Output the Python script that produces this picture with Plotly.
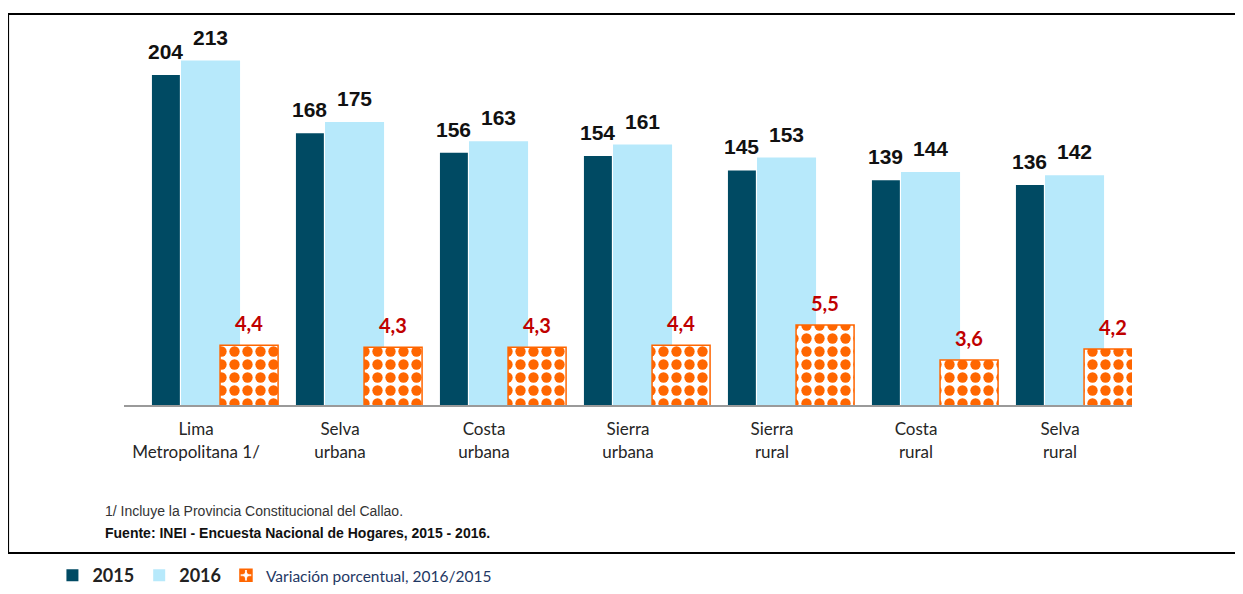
import plotly.graph_objects as go

# Data
categories = [
    "Lima<br>Metropolitana 1/", "Selva<br>urbana", "Costa<br>urbana", "Sierra<br>urbana",
    "Sierra<br>rural", "Costa<br>rural", "Selva<br>rural",
]
values_2015 = [204, 168, 156, 154, 145, 139, 136]
values_2016 = [213, 175, 163, 161, 153, 144, 142]
variation = [4.4, 4.3, 4.3, 4.4, 5.5, 3.6, 4.2]

C2015 = "#004A63"
C2016 = "#B7E9FB"
ORANGE = "#FF6600"
RED = "#C00000"
ARIAL = "Liberation Sans, Arial"

# bar geometry in category units (offset, width)
geo_2015 = (-0.306, 0.194)
geo_2016 = (-0.104, 0.41)
geo_var = (0.167, 0.403)

fig = go.Figure()

fig.add_trace(go.Bar(
    x=categories, y=values_2015, name="<b>2015</b>",
    offset=geo_2015[0], width=geo_2015[1],
    marker=dict(color=C2015, line=dict(width=0)),
))
fig.add_trace(go.Bar(
    x=categories, y=values_2016, name="<b>2016</b>",
    offset=geo_2016[0], width=geo_2016[1],
    marker=dict(color=C2016, line=dict(width=0)),
))
fig.add_trace(go.Bar(
    x=categories, y=variation, yaxis="y2",
    name="<span style='font-size:15.5px;color:#1F3864'>Variación porcentual, 2016/2015</span>",
    offset=geo_var[0], width=geo_var[1],
    marker=dict(
        color="white",
        line=dict(color=ORANGE, width=1.5),
        pattern=dict(shape=".", fgcolor=ORANGE, bgcolor="white", size=13,
                     solidity=0.5, fgopacity=1, fillmode="overlay"),
    ),
))

# value labels
def centre(i, geo):
    return i + geo[0] + geo[1] / 2

for i in range(len(categories)):
    fig.add_annotation(x=centre(i, geo_2015), y=values_2015[i], text=f"<b>{values_2015[i]}</b>",
                       yanchor="bottom", yshift=10, showarrow=False,
                       font=dict(family=ARIAL, size=21, color="#111111"))
    fig.add_annotation(x=centre(i, geo_2016), y=values_2016[i], text=f"<b>{values_2016[i]}</b>",
                       yanchor="bottom", yshift=10, showarrow=False,
                       font=dict(family=ARIAL, size=21, color="#111111"))
    fig.add_annotation(x=centre(i, geo_var), y=variation[i], yref="y2",
                       text="<b>" + f"{variation[i]:.1f}".replace(".", ",") + "</b>",
                       yanchor="bottom", yshift=8, showarrow=False,
                       font=dict(family="Lato", size=20, color=RED))

# footnotes
fig.add_annotation(x=-0.021, y=-0.312, xref="paper", yref="paper", xanchor="left",
                   text="1/ Incluye la Provincia Constitucional del Callao.",
                   showarrow=False, font=dict(family=ARIAL, size=14, color="#333333"))
fig.add_annotation(x=-0.021, y=-0.371, xref="paper", yref="paper", xanchor="left",
                   text="<b>Fuente: INEI - Encuesta Nacional de Hogares, 2015 - 2016.</b>",
                   showarrow=False, font=dict(family=ARIAL, size=14, color="#111111"))

# outer frame
fig.add_shape(type="rect", xref="paper", yref="paper",
              x0=-0.115, x1=1.125, y0=-0.398, y1=1.051,
              line=dict(color="black", width=2), fillcolor="rgba(0,0,0,0)")

# the page body adds an 8px margin, so the figure is 8px smaller each way
fig.update_layout(
    width=1235, height=586,
    margin=dict(l=116, r=111, t=25, b=189, autoexpand=False),
    paper_bgcolor="white", plot_bgcolor="white",
    barmode="overlay",
    separators=",.",
    xaxis=dict(
        showline=True, linecolor="#9A9A9A", linewidth=2,
        ticks="", showgrid=False, ticklabelstandoff=8,
        tickfont=dict(family="Lato", size=17, color="#262626"),
        range=[-0.5, 6.5],
    ),
    yaxis=dict(range=[0, 230], visible=False),
    yaxis2=dict(range=[1.15, 21.4], overlaying="y", visible=False),
    legend=dict(
        orientation="h", x=-0.071, y=-0.508, xanchor="left", yanchor="bottom",
        font=dict(family="Lato", size=18, color="#222222"),
        itemwidth=30, tracegroupgap=0,
    ),
    showlegend=True,
)

fig.write_html("out.html")
